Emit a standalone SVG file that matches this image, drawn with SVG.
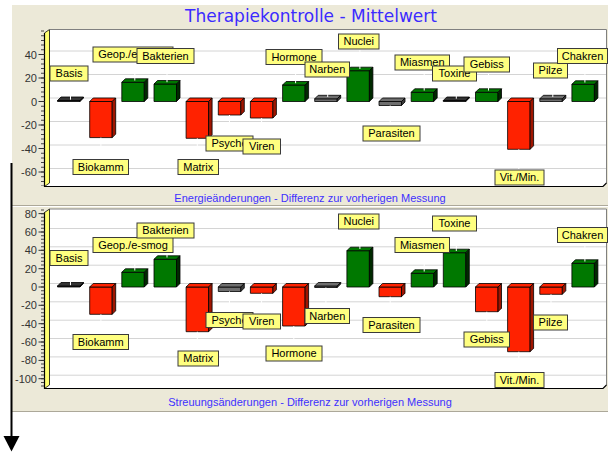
<svg xmlns="http://www.w3.org/2000/svg" width="608" height="452" viewBox="0 0 608 452">
<defs>
<style>
.bg{fill:#ece9d8}
.plot{fill:#fff}
.wall{fill:#ffff70;stroke:#000;stroke-width:0.8}
.pb{fill:none;stroke:#808080;stroke-width:1}
.pf{fill:none;stroke:#000;stroke-width:1.2}
.grid line{stroke:#d4d4d4;stroke-width:1}
.ax text{fill:#333;font-family:"Liberation Sans",Arial,sans-serif;font-size:11px;text-anchor:end}
.tk{stroke:#333;stroke-width:1}
.mt{stroke:#444;stroke-width:3;stroke-dasharray:1 3.7}
.mt2{stroke:#444;stroke-width:3;stroke-dasharray:1 2.668}
.title{fill:#3b2bff;font-family:"DejaVu Sans",Verdana,sans-serif;font-size:17px;text-anchor:middle}
.cap{fill:#4030ff;font-family:"Liberation Sans",Arial,sans-serif;font-size:11px;text-anchor:middle}
.bar *{stroke:#000;stroke-width:0.8;stroke-linejoin:round}
.r .f,.r .t{fill:#ff2200}
.r .s{fill:#a01500}
.g .f,.g .t{fill:#007800}
.g .s{fill:#002a00}
.n .f,.n .t{fill:#6e6e6e}
.n .s{fill:#3a3a3a}
.d .f,.d .t{fill:#333}
.d .s{fill:#111}
.lb rect{fill:#ffff80;stroke:#3a3a3a;stroke-width:1}
.lb text{fill:#000;font-family:"Liberation Sans",Arial,sans-serif;font-size:11px;text-anchor:middle}
.con line{stroke:#fff;stroke-width:1}
</style>
<clipPath id="cg1"><rect x="93" y="40" width="44" height="30"/></clipPath>
<clipPath id="cp1"><rect x="206" y="130" width="37" height="30"/></clipPath>
<clipPath id="cp2"><rect x="206" y="305" width="37" height="30"/></clipPath>
</defs>
<rect class="bg" x="12" y="5" width="596" height="407"/>
<line x1="12" y1="205.5" x2="608" y2="205.5" stroke="#aca899"/>
<line x1="12" y1="206.5" x2="608" y2="206.5" stroke="#fff"/>
<line x1="12" y1="411.5" x2="608" y2="411.5" stroke="#aca899"/>
<text class="title" x="311" y="21.5">Therapiekontrolle - Mittelwert</text>

<!-- TOP CHART -->
<g id="chart-top">
<polygon class="plot" points="44.5,33 49.5,29.5 606.5,29.5 606.5,183 603,186.5 44.5,186.5"/>
<g class="grid">
<line x1="49.5" y1="51" x2="606" y2="51"/><line x1="49.5" y1="74.5" x2="606" y2="74.5"/><line x1="49.5" y1="98" x2="606" y2="98"/><line x1="49.5" y1="121.5" x2="606" y2="121.5"/><line x1="49.5" y1="145" x2="606" y2="145"/><line x1="49.5" y1="168.5" x2="606" y2="168.5"/>
</g>
<polygon class="wall" points="44.5,33 49.5,29.5 49.5,183 44.5,186.5"/>
<polyline class="pb" points="49.5,29.5 606.5,29.5 606.5,183"/>
<polyline class="pf" points="44.5,33 44.5,186.5 603,186.5 606.5,183"/>
<g class="ax">
<line class="mt" x1="42.5" y1="30.5" x2="42.5" y2="186"/>
<line class="tk" x1="38.5" y1="54.5" x2="44.5" y2="54.5"/><line class="tk" x1="38.5" y1="78" x2="44.5" y2="78"/><line class="tk" x1="38.5" y1="101.5" x2="44.5" y2="101.5"/><line class="tk" x1="38.5" y1="125" x2="44.5" y2="125"/><line class="tk" x1="38.5" y1="148.5" x2="44.5" y2="148.5"/><line class="tk" x1="38.5" y1="172" x2="44.5" y2="172"/>
<text x="37" y="58.5">40</text><text x="37" y="82">20</text><text x="37" y="105.5">0</text><text x="37" y="129">-20</text><text x="37" y="152.5">-40</text><text x="37" y="176">-60</text>
</g>
<g id="top-bars">
<g id="t-bar-basis" class="bar d" transform="translate(57.5,0)"><rect class="f" x="0" y="100.5" width="22.5" height="1"/><polygon class="t" points="0,100.5 3.5,97 26,97 22.5,100.5"/><polygon class="s" points="22.5,100.5 26,97 26,98 22.5,101.5"/></g>
<g id="t-bar-biokamm" class="bar r" transform="translate(89.7,0)"><rect class="f" x="0" y="101.5" width="22.5" height="36.1"/><polygon class="t" points="0,101.5 3.5,98 26,98 22.5,101.5"/><polygon class="s" points="22.5,101.5 26,98 26,134.1 22.5,137.6"/></g>
<g id="t-bar-geop" class="bar g" transform="translate(121.8,0)"><rect class="f" x="0" y="82.3" width="22.5" height="19.2"/><polygon class="t" points="0,82.3 3.5,78.8 26,78.8 22.5,82.3"/><polygon class="s" points="22.5,82.3 26,78.8 26,98 22.5,101.5"/></g>
<g id="t-bar-bakterien" class="bar g" transform="translate(154,0)"><rect class="f" x="0" y="84" width="22.5" height="17.5"/><polygon class="t" points="0,84 3.5,80.5 26,80.5 22.5,84"/><polygon class="s" points="22.5,84 26,80.5 26,98 22.5,101.5"/></g>
<g id="t-bar-matrix" class="bar r" transform="translate(186.1,0)"><rect class="f" x="0" y="101.5" width="22.5" height="36.8"/><polygon class="t" points="0,101.5 3.5,98 26,98 22.5,101.5"/><polygon class="s" points="22.5,101.5 26,98 26,134.8 22.5,138.3"/></g>
<g id="t-bar-psyche" class="bar r" transform="translate(218.3,0)"><rect class="f" x="0" y="101.5" width="22.5" height="13.5"/><polygon class="t" points="0,101.5 3.5,98 26,98 22.5,101.5"/><polygon class="s" points="22.5,101.5 26,98 26,111.5 22.5,115"/></g>
<g id="t-bar-viren" class="bar r" transform="translate(250.4,0)"><rect class="f" x="0" y="101.5" width="22.5" height="16.5"/><polygon class="t" points="0,101.5 3.5,98 26,98 22.5,101.5"/><polygon class="s" points="22.5,101.5 26,98 26,114.5 22.5,118"/></g>
<g id="t-bar-hormone" class="bar g" transform="translate(282.6,0)"><rect class="f" x="0" y="85" width="22.5" height="16.5"/><polygon class="t" points="0,85 3.5,81.5 26,81.5 22.5,85"/><polygon class="s" points="22.5,85 26,81.5 26,98 22.5,101.5"/></g>
<g id="t-bar-narben" class="bar n" transform="translate(314.7,0)"><rect class="f" x="0" y="98.8" width="22.5" height="2.7"/><polygon class="t" points="0,98.8 3.5,95.3 26,95.3 22.5,98.8"/><polygon class="s" points="22.5,98.8 26,95.3 26,98 22.5,101.5"/></g>
<g id="t-bar-nuclei" class="bar g" transform="translate(346.9,0)"><rect class="f" x="0" y="70.7" width="22.5" height="30.8"/><polygon class="t" points="0,70.7 3.5,67.2 26,67.2 22.5,70.7"/><polygon class="s" points="22.5,70.7 26,67.2 26,98 22.5,101.5"/></g>
<g id="t-bar-parasiten" class="bar n" transform="translate(379,0)"><rect class="f" x="0" y="101.5" width="22.5" height="4"/><polygon class="t" points="0,101.5 3.5,98 26,98 22.5,101.5"/><polygon class="s" points="22.5,101.5 26,98 26,102 22.5,105.5"/></g>
<g id="t-bar-miasmen" class="bar g" transform="translate(411.2,0)"><rect class="f" x="0" y="92.3" width="22.5" height="9.2"/><polygon class="t" points="0,92.3 3.5,88.8 26,88.8 22.5,92.3"/><polygon class="s" points="22.5,92.3 26,88.8 26,98 22.5,101.5"/></g>
<g id="t-bar-toxine" class="bar d" transform="translate(443.3,0)"><rect class="f" x="0" y="100.5" width="22.5" height="1"/><polygon class="t" points="0,100.5 3.5,97 26,97 22.5,100.5"/><polygon class="s" points="22.5,100.5 26,97 26,98 22.5,101.5"/></g>
<g id="t-bar-gebiss" class="bar g" transform="translate(475.5,0)"><rect class="f" x="0" y="92.3" width="22.5" height="9.2"/><polygon class="t" points="0,92.3 3.5,88.8 26,88.8 22.5,92.3"/><polygon class="s" points="22.5,92.3 26,88.8 26,98 22.5,101.5"/></g>
<g id="t-bar-vitmin" class="bar r" transform="translate(507.6,0)"><rect class="f" x="0" y="101.5" width="22.5" height="47.8"/><polygon class="t" points="0,101.5 3.5,98 26,98 22.5,101.5"/><polygon class="s" points="22.5,101.5 26,98 26,145.8 22.5,149.3"/></g>
<g id="t-bar-pilze" class="bar n" transform="translate(539.8,0)"><rect class="f" x="0" y="98.8" width="22.5" height="2.7"/><polygon class="t" points="0,98.8 3.5,95.3 26,95.3 22.5,98.8"/><polygon class="s" points="22.5,98.8 26,95.3 26,98 22.5,101.5"/></g>
<g id="t-bar-chakren" class="bar g" transform="translate(571.9,0)"><rect class="f" x="0" y="84.3" width="22.5" height="17.2"/><polygon class="t" points="0,84.3 3.5,80.8 26,80.8 22.5,84.3"/><polygon class="s" points="22.5,84.3 26,80.8 26,98 22.5,101.5"/></g>
</g>
<g id="top-connectors" class="con">
<line x1="70.5" y1="99.7" x2="70.5" y2="81"/><line x1="100.9" y1="137.6" x2="100.9" y2="159.5"/><line x1="134.8" y1="80.5" x2="134.8" y2="62"/><line x1="167" y1="82.2" x2="167" y2="63.5"/><line x1="197.3" y1="138.3" x2="197.3" y2="159.5"/><line x1="229.5" y1="115" x2="229.5" y2="136"/><line x1="261.6" y1="118" x2="261.6" y2="139"/><line x1="295.6" y1="83.2" x2="295.6" y2="64.5"/><line x1="327.7" y1="97" x2="327.7" y2="77"/><line x1="359.9" y1="69" x2="359.9" y2="49"/><line x1="390.2" y1="105.5" x2="390.2" y2="126"/><line x1="424.2" y1="90.5" x2="424.2" y2="70"/><line x1="456.3" y1="98.7" x2="456.3" y2="81"/><line x1="488.5" y1="90.5" x2="488.5" y2="72"/><line x1="518.8" y1="149.3" x2="518.8" y2="170"/><line x1="552.8" y1="97" x2="552.8" y2="78"/><line x1="584.9" y1="82.5" x2="584.9" y2="63.5"/>
</g>
<g id="top-labels" class="lb">
<g id="t-lbl-basis"><rect x="50" y="66" width="38" height="15"/><text x="69" y="77.3">Basis</text></g>
<g id="t-lbl-biokamm"><rect x="73" y="159.5" width="55.5" height="15"/><text x="100.75" y="170.8">Biokamm</text></g>
<g id="t-lbl-geop"><rect x="93" y="47" width="80" height="15"/><text x="133" y="58.3" clip-path="url(#cg1)">Geop./e-smog</text></g>
<g id="t-lbl-bakterien"><rect x="137" y="48.5" width="57" height="15"/><text x="165.5" y="59.8">Bakterien</text></g>
<g id="t-lbl-matrix"><rect x="178" y="159.5" width="40.5" height="15"/><text x="198.25" y="170.8">Matrix</text></g>
<g id="t-lbl-psyche"><rect x="206" y="136" width="47" height="15"/><text x="229.5" y="147.3" clip-path="url(#cp1)">Psyche</text></g>
<g id="t-lbl-viren"><rect x="243" y="139" width="37.5" height="15"/><text x="261.75" y="150.3">Viren</text></g>
<g id="t-lbl-hormone"><rect x="266" y="49.5" width="56" height="15"/><text x="294" y="60.8">Hormone</text></g>
<g id="t-lbl-narben"><rect x="305" y="62" width="44.5" height="15"/><text x="327.25" y="73.3">Narben</text></g>
<g id="t-lbl-nuclei"><rect x="338.5" y="34" width="40.5" height="15"/><text x="358.75" y="45.3">Nuclei</text></g>
<g id="t-lbl-parasiten"><rect x="363" y="126" width="57" height="15"/><text x="391.5" y="137.3">Parasiten</text></g>
<g id="t-lbl-miasmen"><rect x="395" y="55" width="54.5" height="15"/><text x="422.25" y="66.3">Miasmen</text></g>
<g id="t-lbl-toxine"><rect x="432.5" y="66" width="44" height="15"/><text x="454.5" y="77.3">Toxine</text></g>
<g id="t-lbl-gebiss"><rect x="464" y="57" width="45.5" height="15"/><text x="486.75" y="68.3">Gebiss</text></g>
<g id="t-lbl-vitmin"><rect x="495" y="170" width="49" height="15"/><text x="519.5" y="181.3">Vit./Min.</text></g>
<g id="t-lbl-pilze"><rect x="533.5" y="63" width="34" height="15"/><text x="550.5" y="74.3">Pilze</text></g>
<g id="t-lbl-chakren"><rect x="557.5" y="48.5" width="50" height="15"/><text x="582.5" y="59.8">Chakren</text></g>
</g>
<text class="cap" x="310" y="201.5">Energieänderungen - Differenz zur vorherigen Messung</text>
</g>

<!-- BOTTOM CHART -->
<g id="chart-bottom">
<polygon class="plot" points="44.5,212.5 49.5,209 606.5,209 606.5,385 603,388.5 44.5,388.5"/>
<g class="grid">
<line x1="49.5" y1="228.5" x2="606" y2="228.5"/><line x1="49.5" y1="246.8" x2="606" y2="246.8"/><line x1="49.5" y1="265.2" x2="606" y2="265.2"/><line x1="49.5" y1="283.5" x2="606" y2="283.5"/><line x1="49.5" y1="301.8" x2="606" y2="301.8"/><line x1="49.5" y1="320.2" x2="606" y2="320.2"/><line x1="49.5" y1="338.5" x2="606" y2="338.5"/><line x1="49.5" y1="356.9" x2="606" y2="356.9"/><line x1="49.5" y1="375.2" x2="606" y2="375.2"/>
</g>
<polygon class="wall" points="44.5,212.5 49.5,209 49.5,385 44.5,388.5"/>
<polyline class="pb" points="49.5,209 606.5,209 606.5,385"/>
<polyline class="pf" points="44.5,212.5 44.5,388.5 603,388.5 606.5,385"/>
<g class="ax">
<line class="mt2" x1="42.5" y1="209.5" x2="42.5" y2="388"/>
<line class="tk" x1="38.5" y1="213.6" x2="44.5" y2="213.6"/><line class="tk" x1="38.5" y1="232" x2="44.5" y2="232"/><line class="tk" x1="38.5" y1="250.3" x2="44.5" y2="250.3"/><line class="tk" x1="38.5" y1="268.7" x2="44.5" y2="268.7"/><line class="tk" x1="38.5" y1="287" x2="44.5" y2="287"/><line class="tk" x1="38.5" y1="305.3" x2="44.5" y2="305.3"/><line class="tk" x1="38.5" y1="323.7" x2="44.5" y2="323.7"/><line class="tk" x1="38.5" y1="342" x2="44.5" y2="342"/><line class="tk" x1="38.5" y1="360.4" x2="44.5" y2="360.4"/><line class="tk" x1="38.5" y1="378.7" x2="44.5" y2="378.7"/>
<text x="37" y="217.6">80</text><text x="37" y="236">60</text><text x="37" y="254.3">40</text><text x="37" y="272.7">20</text><text x="37" y="291">0</text><text x="37" y="309.3">-20</text><text x="37" y="327.7">-40</text><text x="37" y="346">-60</text><text x="37" y="364.4">-80</text><text x="37" y="382.7">-100</text>
</g>
<g id="bottom-bars">
<g id="b-bar-basis" class="bar d" transform="translate(57.5,0)"><rect class="f" x="0" y="286" width="22.5" height="1"/><polygon class="t" points="0,286 3.5,282.5 26,282.5 22.5,286"/><polygon class="s" points="22.5,286 26,282.5 26,283.5 22.5,287"/></g>
<g id="b-bar-biokamm" class="bar r" transform="translate(89.7,0)"><rect class="f" x="0" y="287" width="22.5" height="27.3"/><polygon class="t" points="0,287 3.5,283.5 26,283.5 22.5,287"/><polygon class="s" points="22.5,287 26,283.5 26,310.8 22.5,314.3"/></g>
<g id="b-bar-geop" class="bar g" transform="translate(121.8,0)"><rect class="f" x="0" y="272.3" width="22.5" height="14.7"/><polygon class="t" points="0,272.3 3.5,268.8 26,268.8 22.5,272.3"/><polygon class="s" points="22.5,272.3 26,268.8 26,283.5 22.5,287"/></g>
<g id="b-bar-bakterien" class="bar g" transform="translate(154,0)"><rect class="f" x="0" y="259.3" width="22.5" height="27.7"/><polygon class="t" points="0,259.3 3.5,255.8 26,255.8 22.5,259.3"/><polygon class="s" points="22.5,259.3 26,255.8 26,283.5 22.5,287"/></g>
<g id="b-bar-matrix" class="bar r" transform="translate(186.1,0)"><rect class="f" x="0" y="287" width="22.5" height="44.7"/><polygon class="t" points="0,287 3.5,283.5 26,283.5 22.5,287"/><polygon class="s" points="22.5,287 26,283.5 26,328.2 22.5,331.7"/></g>
<g id="b-bar-psyche" class="bar n" transform="translate(218.3,0)"><rect class="f" x="0" y="287" width="22.5" height="4.5"/><polygon class="t" points="0,287 3.5,283.5 26,283.5 22.5,287"/><polygon class="s" points="22.5,287 26,283.5 26,288 22.5,291.5"/></g>
<g id="b-bar-viren" class="bar r" transform="translate(250.4,0)"><rect class="f" x="0" y="287" width="22.5" height="6.3"/><polygon class="t" points="0,287 3.5,283.5 26,283.5 22.5,287"/><polygon class="s" points="22.5,287 26,283.5 26,289.8 22.5,293.3"/></g>
<g id="b-bar-hormone" class="bar r" transform="translate(282.6,0)"><rect class="f" x="0" y="287" width="22.5" height="39"/><polygon class="t" points="0,287 3.5,283.5 26,283.5 22.5,287"/><polygon class="s" points="22.5,287 26,283.5 26,322.5 22.5,326"/></g>
<g id="b-bar-narben" class="bar n" transform="translate(314.7,0)"><rect class="f" x="0" y="286" width="22.5" height="1.5"/><polygon class="t" points="0,286 3.5,282.5 26,282.5 22.5,286"/><polygon class="s" points="22.5,286 26,282.5 26,284 22.5,287.5"/></g>
<g id="b-bar-nuclei" class="bar g" transform="translate(346.9,0)"><rect class="f" x="0" y="250.7" width="22.5" height="36.3"/><polygon class="t" points="0,250.7 3.5,247.2 26,247.2 22.5,250.7"/><polygon class="s" points="22.5,250.7 26,247.2 26,283.5 22.5,287"/></g>
<g id="b-bar-parasiten" class="bar r" transform="translate(379,0)"><rect class="f" x="0" y="287" width="22.5" height="9.7"/><polygon class="t" points="0,287 3.5,283.5 26,283.5 22.5,287"/><polygon class="s" points="22.5,287 26,283.5 26,293.2 22.5,296.7"/></g>
<g id="b-bar-miasmen" class="bar g" transform="translate(411.2,0)"><rect class="f" x="0" y="273.3" width="22.5" height="13.7"/><polygon class="t" points="0,273.3 3.5,269.8 26,269.8 22.5,273.3"/><polygon class="s" points="22.5,273.3 26,269.8 26,283.5 22.5,287"/></g>
<g id="b-bar-toxine" class="bar g" transform="translate(443.3,0)"><rect class="f" x="0" y="252.7" width="22.5" height="34.3"/><polygon class="t" points="0,252.7 3.5,249.2 26,249.2 22.5,252.7"/><polygon class="s" points="22.5,252.7 26,249.2 26,283.5 22.5,287"/></g>
<g id="b-bar-gebiss" class="bar r" transform="translate(475.5,0)"><rect class="f" x="0" y="287" width="22.5" height="24.7"/><polygon class="t" points="0,287 3.5,283.5 26,283.5 22.5,287"/><polygon class="s" points="22.5,287 26,283.5 26,308.2 22.5,311.7"/></g>
<g id="b-bar-vitmin" class="bar r" transform="translate(507.6,0)"><rect class="f" x="0" y="287" width="22.5" height="64.7"/><polygon class="t" points="0,287 3.5,283.5 26,283.5 22.5,287"/><polygon class="s" points="22.5,287 26,283.5 26,348.2 22.5,351.7"/></g>
<g id="b-bar-pilze" class="bar r" transform="translate(539.8,0)"><rect class="f" x="0" y="287" width="22.5" height="7.3"/><polygon class="t" points="0,287 3.5,283.5 26,283.5 22.5,287"/><polygon class="s" points="22.5,287 26,283.5 26,290.8 22.5,294.3"/></g>
<g id="b-bar-chakren" class="bar g" transform="translate(571.9,0)"><rect class="f" x="0" y="263.3" width="22.5" height="23.7"/><polygon class="t" points="0,263.3 3.5,259.8 26,259.8 22.5,263.3"/><polygon class="s" points="22.5,263.3 26,259.8 26,283.5 22.5,287"/></g>
</g>
<g id="bottom-connectors" class="con">
<line x1="70.5" y1="285.2" x2="70.5" y2="265.5"/><line x1="100.9" y1="314.3" x2="100.9" y2="334.5"/><line x1="134.8" y1="270.5" x2="134.8" y2="252.5"/><line x1="167" y1="257.5" x2="167" y2="238"/><line x1="197.3" y1="331.7" x2="197.3" y2="351"/><line x1="229.5" y1="291.5" x2="229.5" y2="312.5"/><line x1="261.6" y1="293.3" x2="261.6" y2="314"/><line x1="293.8" y1="326" x2="293.8" y2="346"/><line x1="325.9" y1="287.5" x2="325.9" y2="308.5"/><line x1="359.9" y1="249" x2="359.9" y2="229"/><line x1="390.2" y1="296.7" x2="390.2" y2="317.5"/><line x1="424.2" y1="271.5" x2="424.2" y2="252.5"/><line x1="456.3" y1="251" x2="456.3" y2="231"/><line x1="486.8" y1="311.7" x2="486.8" y2="332"/><line x1="518.8" y1="351.7" x2="518.8" y2="372.5"/><line x1="551" y1="294.3" x2="551" y2="315"/><line x1="584.9" y1="261.5" x2="584.9" y2="242.5"/>
</g>
<g id="bottom-labels" class="lb">
<g id="b-lbl-basis"><rect x="50" y="250.5" width="38" height="15"/><text x="69" y="261.8">Basis</text></g>
<g id="b-lbl-biokamm"><rect x="73" y="334.5" width="55.5" height="15"/><text x="100.75" y="345.8">Biokamm</text></g>
<g id="b-lbl-geop"><rect x="93" y="237.5" width="80" height="15"/><text x="133" y="248.8">Geop./e-smog</text></g>
<g id="b-lbl-bakterien"><rect x="137" y="223" width="57" height="15"/><text x="165.5" y="234.3">Bakterien</text></g>
<g id="b-lbl-matrix"><rect x="178" y="351" width="40.5" height="15"/><text x="198.25" y="362.3">Matrix</text></g>
<g id="b-lbl-psyche"><rect x="206" y="312.5" width="47" height="15"/><text x="229.5" y="323.8" clip-path="url(#cp2)">Psyche</text></g>
<g id="b-lbl-viren"><rect x="243" y="314" width="37.5" height="15"/><text x="261.75" y="325.3">Viren</text></g>
<g id="b-lbl-hormone"><rect x="266" y="346" width="56" height="15"/><text x="294" y="357.3">Hormone</text></g>
<g id="b-lbl-narben"><rect x="305" y="308.5" width="44.5" height="15"/><text x="327.25" y="319.8">Narben</text></g>
<g id="b-lbl-nuclei"><rect x="338.5" y="214" width="40.5" height="15"/><text x="358.75" y="225.3">Nuclei</text></g>
<g id="b-lbl-parasiten"><rect x="363" y="317.5" width="57" height="15"/><text x="391.5" y="328.8">Parasiten</text></g>
<g id="b-lbl-miasmen"><rect x="395" y="237.5" width="54.5" height="15"/><text x="422.25" y="248.8">Miasmen</text></g>
<g id="b-lbl-toxine"><rect x="432.5" y="216" width="44" height="15"/><text x="454.5" y="227.3">Toxine</text></g>
<g id="b-lbl-gebiss"><rect x="464" y="332" width="45.5" height="15"/><text x="486.75" y="343.3">Gebiss</text></g>
<g id="b-lbl-vitmin"><rect x="495" y="372.5" width="49" height="15"/><text x="519.5" y="383.8">Vit./Min.</text></g>
<g id="b-lbl-pilze"><rect x="533.5" y="315" width="34" height="15"/><text x="550.5" y="326.3">Pilze</text></g>
<g id="b-lbl-chakren"><rect x="557.5" y="227.5" width="50" height="15"/><text x="582.5" y="238.8">Chakren</text></g>
</g>
<text class="cap" x="310" y="405.5">Streuungsänderungen - Differenz zur vorherigen Messung</text>
</g>

<g id="side-arrow">
<line x1="11.5" y1="163" x2="11.5" y2="438" stroke="#000" stroke-width="2"/>
<polygon points="3.5,436 19.5,436 11.5,451.5" fill="#000"/>
</g>
</svg>
